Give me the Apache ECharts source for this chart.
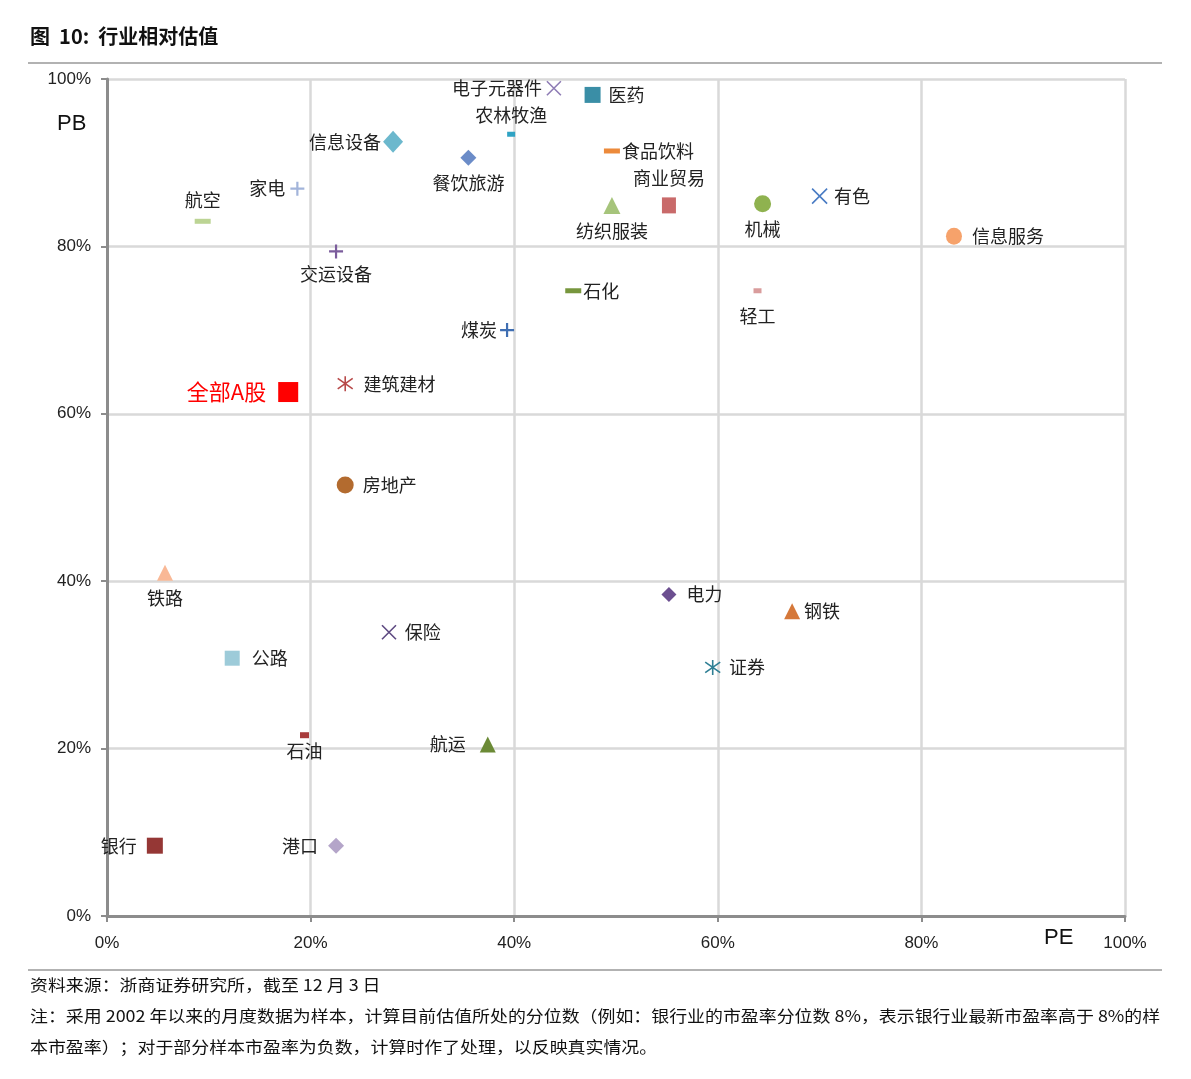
<!DOCTYPE html>
<html>
<head>
<meta charset="utf-8">
<script src="https://cdn.jsdelivr.net/npm/echarts@6/dist/echarts.min.js"></script>
<style>
html, body { margin: 0; padding: 0; background: #fff; }
#main { width: 1191px; height: 1079px; }
</style>
</head>
<body>
<div id="main"></div>
<script>
// 行业名称
var industries = ['电子元器件', '医药', '农林牧渔', '信息设备', '食品饮料', '餐饮旅游', '家电', '航空',
    '纺织服装', '商业贸易', '机械', '有色', '信息服务', '交运设备', '石化', '轻工', '煤炭', '全部A股',
    '建筑建材', '房地产', '铁路', '电力', '钢铁', '保险', '公路', '证券', '石油', '航运', '银行', '港口'];
// 市盈率分位数 (%)
var pe = [43.9, 47.7, 39.7, 28.1, 49.6, 35.5, 18.7, 9.4,
    49.6, 55.2, 64.4, 70.0, 83.2, 22.5, 45.8, 63.9, 39.3, 17.8,
    23.4, 23.4, 5.7, 55.2, 67.3, 27.7, 12.3, 59.5, 19.4, 37.4, 4.7, 22.5];
// 市净率分位数 (%)
var pb = [98.9, 98.1, 93.4, 92.5, 91.4, 90.6, 86.9, 83.0,
    84.9, 84.9, 85.1, 86.0, 81.2, 79.4, 74.7, 74.7, 70.0, 62.6,
    63.6, 51.5, 41.0, 38.4, 36.4, 33.9, 30.8, 29.7, 21.6, 20.5, 8.4, 8.4];
var axisTicks = [0, 20, 40, 60, 80, 100];

// 标记样式: [符号, 大小, 颜色, 标签位置, 标签距离]
var CROSS = 'path://M0,0L10,10M10,0L0,10';
var PLUS = 'path://M5,0L5,10M0,5L10,5';
var STAR = 'path://M5,0L5,10M1,1.5L9,8.5M9,1.5L1,8.5';
var styleMap = {
    '电子元器件': [CROSS, 14, '#8e7cb5', 'left', 4],
    '医药': ['rect', 16, '#3a8ea6', 'right', 8],
    '农林牧渔': ['rect', [8, 5], '#2fa3c4', 'top', 8],
    '信息设备': ['diamond', [20, 22], '#6cb8cd', 'left', 2],
    '食品饮料': ['rect', [16, 5], '#ec8a3b', 'right', 2],
    '餐饮旅游': ['diamond', 16, '#6b8cc8', 'bottom', 8],
    '家电': [PLUS, 14, '#a2b4da', 'left', 4],
    '航空': ['rect', [16, 5], '#bcd494', 'top', 10],
    '纺织服装': ['triangle', 17, '#a6c47b', 'bottom', 8],
    '商业贸易': ['rect', [14, 16], '#c96a6a', 'top', 10],
    '机械': ['circle', 17, '#8fb24f', 'bottom', 8],
    '有色': [CROSS, 15, '#4a7cc4', 'right', 6],
    '信息服务': ['circle', [16, 17], '#f6a26b', 'right', 10],
    '交运设备': [PLUS, 14, '#7b5c9c', 'bottom', 6],
    '石化': ['rect', [16, 5], '#77963d', 'right', 2],
    '轻工': ['rect', [8, 5], '#d99c9c', 'bottom', 14],
    '煤炭': [PLUS, 14, '#3f6eb2', 'left', 2],
    '全部A股': ['rect', 20, '#ff0000', 'left', 12],
    '建筑建材': [STAR, 15, '#b84a4a', 'right', 10],
    '房地产': ['circle', 17, '#b36b2f', 'right', 9],
    '铁路': ['triangle', 16, '#f9b896', 'bottom', 8],
    '电力': ['diamond', 15, '#6c4f90', 'right', 10],
    '钢铁': ['triangle', 16, '#d5783a', 'right', 4],
    '保险': [CROSS, 14, '#5e4a82', 'right', 8],
    '公路': ['rect', 15, '#9dcbd9', 'right', 12],
    '证券': [STAR, 15, '#2f7f94', 'right', 8],
    '石油': ['rect', [9, 6], '#a83c3c', 'bottom', 4],
    '航运': ['triangle', 16, '#6b8a36', 'left', 14],
    '银行': ['rect', 16, '#953735', 'left', 10],
    '港口': ['diamond', 16, '#b4a5c9', 'left', 10]
};

var chart = echarts.init(document.getElementById('main'));

var points = [];
for (var i = 0; i < industries.length; i++) {
    var s = styleMap[industries[i]];
    var stroked = s[0].indexOf('path://') === 0;
    var isAll = industries[i] === '全部A股';
    points.push({
        name: industries[i],
        value: [pe[i], pb[i]],
        symbol: s[0],
        symbolSize: s[1],
        itemStyle: stroked
            ? {color: 'rgba(0,0,0,0)', borderColor: s[2], borderWidth: s[0] === PLUS ? 2.2 : 1.6, opacity: 1}
            : {color: s[2], opacity: 1},
        label: {
            show: true,
            position: s[3],
            distance: s[4],
            formatter: '{b}',
            color: isAll ? '#ff0000' : '#222',
            fontSize: isAll ? 22 : 18
        }
    });
}

var cjk = '"Noto Sans CJK SC", "Noto Sans", sans-serif';
var latin = '"Liberation Sans", Arial, sans-serif';

chart.setOption({
    animation: false,
    textStyle: {fontFamily: cjk},
    grid: {left: 107, top: 79, right: 66, bottom: 163},
    xAxis: {
        type: 'value',
        min: 0, max: 100, interval: 20,
        axisLine: {show: true, lineStyle: {color: '#8c8c8c', width: 3}},
        axisTick: {show: true, length: 6, lineStyle: {color: '#8c8c8c', width: 2}},
        axisLabel: {
            margin: 19, color: '#222', fontSize: 17, fontFamily: latin,
            formatter: function (v) { return axisTicks.indexOf(v) >= 0 ? v + '%' : ''; }
        },
        splitLine: {show: true, lineStyle: {color: '#d9d9d9', width: 2.5}}
    },
    yAxis: {
        type: 'value',
        min: 0, max: 100, interval: 20,
        axisLine: {show: true, lineStyle: {color: '#8c8c8c', width: 3}},
        axisTick: {show: true, length: 6, lineStyle: {color: '#8c8c8c', width: 2}},
        axisLabel: {
            margin: 16, color: '#222', fontSize: 17, fontFamily: latin,
            formatter: function (v) { return axisTicks.indexOf(v) >= 0 ? v + '%' : ''; }
        },
        splitLine: {show: true, lineStyle: {color: '#d9d9d9', width: 2.5}}
    },
    graphic: [
        {type: 'text', x: 30, y: 26, style: {text: '图  10:  行业相对估值', fill: '#111', font: 'bold 20px ' + cjk}},
        {type: 'line', shape: {x1: 28, y1: 63, x2: 1162, y2: 63}, style: {stroke: '#999', lineWidth: 1.5}},
        {type: 'text', x: 57, y: 113, style: {text: 'PB', fill: '#111', font: '22px ' + latin}},
        {type: 'text', x: 1044, y: 927, style: {text: 'PE', fill: '#111', font: '22px ' + latin}},
        {type: 'line', shape: {x1: 28, y1: 970, x2: 1162, y2: 970}, style: {stroke: '#999', lineWidth: 1.5}},
        // 脚注
        {type: 'text', x: 30, y: 977, scaleX: 1.12, style: {text: '资料来源：浙商证券研究所，截至 12 月 3 日', fill: '#111', font: '16px ' + cjk}},
        {type: 'text', x: 30, y: 1008, scaleX: 1.12, style: {text: '注：采用 2002 年以来的月度数据为样本，计算目前估值所处的分位数（例如：银行业的市盈率分位数 8%，表示银行业最新市盈率高于 8%的样', fill: '#111', font: '16px ' + cjk}},
        {type: 'text', x: 30, y: 1039, scaleX: 1.12, style: {text: '本市盈率）；对于部分样本市盈率为负数，计算时作了处理，以反映真实情况。', fill: '#111', font: '16px ' + cjk}}
    ],
    series: [{
        type: 'scatter',
        data: points,
        labelLayout: {hideOverlap: false}
    }]
});
</script>
</body>
</html>
